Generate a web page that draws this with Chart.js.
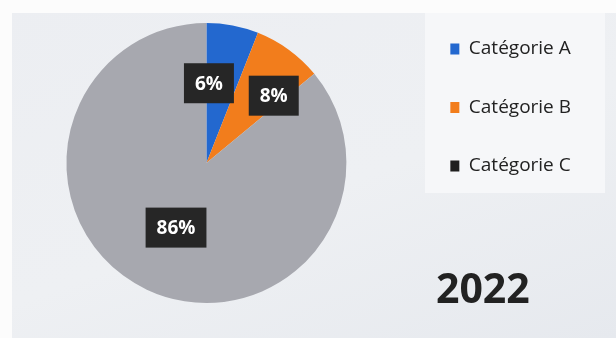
<!DOCTYPE html>
<html>
<head>
<meta charset="utf-8">
<script src="https://cdn.jsdelivr.net/npm/chart.js@4.4.0/dist/chart.umd.min.js"></script>
<style>
  html, body { margin: 0; padding: 0; background: #fcfcfc; }
  #wrap {
    position: relative; width: 616px; height: 338px;
    background:
      linear-gradient(to bottom, #fcfcfc 0 13px, transparent 13px),
      linear-gradient(to right, #fcfcfc 0 12px, transparent 12px),
      linear-gradient(160deg, #eceef2 0%, #eef0f3 55%, #e6e9ee 100%);
  }
  #legendBg {
    position: absolute; left: 425px; top: 13px; width: 180px; height: 180px;
    background: #f6f7f9;
  }
  canvas { position: absolute; left: 0; top: 0; }
</style>
</head>
<body>
<div id="wrap">
  <div id="legendBg"></div>
  <canvas id="pie" width="616" height="338"></canvas>
</div>
<script>
const categories = ['Catégorie A', 'Catégorie B', 'Catégorie C'];
const shares = [6, 8, 86];
const yearLabel = '2022';

const sliceColors = ['#2368cf', '#f27d1c', '#a7a8af'];
const legendColors = ['#2368cf', '#f27d1c', '#1f1f1f'];

// dark boxed percentage labels, placed relative to each arc
const boxLabels = {
  id: 'boxLabels',
  afterDatasetsDraw(chart, args, opts) {
    const ctx = chart.ctx;
    const arcs = chart.getDatasetMeta(0).data;
    ctx.save();
    ctx.font = 'bold 19px "Open Sans"';
    ctx.textAlign = 'center';
    ctx.textBaseline = 'middle';
    arcs.forEach((arc, i) => {
      const p = opts.place[i];
      const mid = (arc.startAngle + arc.endAngle) / 2 + p.turn * Math.PI / 180;
      const r = arc.outerRadius * p.r;
      const x = arc.x + Math.cos(mid) * r;
      const y = arc.y + Math.sin(mid) * r;
      const txt = shares[i] + '%';
      const w = ctx.measureText(txt).width + 22;
      const h = 40;
      ctx.fillStyle = '#262626';
      ctx.fillRect(x - w / 2, y - h / 2, w, h);
      ctx.fillStyle = '#ffffff';
      ctx.fillText(txt, x, y + 1);
    });
    ctx.restore();
  }
};

const yearText = {
  id: 'yearText',
  afterDraw(chart) {
    const ctx = chart.ctx;
    const lg = chart.legend;
    ctx.save();
    ctx.font = 'bold 41px "Open Sans"';
    ctx.fillStyle = '#222222';
    ctx.textAlign = 'center';
    ctx.textBaseline = 'alphabetic';
    ctx.fillText(yearLabel, lg.left + 72, 303);
    ctx.restore();
  }
};

const pieChart = new Chart(document.getElementById('pie'), {
  type: 'pie',
  data: {
    labels: categories,
    datasets: [{
      data: shares,
      backgroundColor: sliceColors,
      borderWidth: 0,
      radius: 140
    }]
  },
  options: {
    responsive: false,
    animation: false,
    layout: { padding: { left: 2, top: 0, bottom: 12, right: 35 } },
    plugins: {
      tooltip: { enabled: false },
      legend: {
        position: 'right',
        align: 'start',
        labels: {
          color: '#222222',
          font: { family: '"Open Sans"', size: 19 },
          boxWidth: 9,
          boxHeight: 11,
          padding: 39.5,
          generateLabels(chart) {
            const items = Chart.controllers.pie.overrides.plugins.legend.labels.generateLabels(chart);
            items.forEach((it, i) => { it.fillStyle = legendColors[i]; it.strokeStyle = legendColors[i]; it.lineWidth = 0; });
            return items;
          }
        }
      },
      boxLabels: {
        place: [
          { r: 0.57, turn: -9 },
          { r: 0.68, turn: 9 },
          { r: 0.51, turn: 0 }
        ]
      }
    }
  },
  plugins: [boxLabels, yearText]
});
</script>
</body>
</html>
